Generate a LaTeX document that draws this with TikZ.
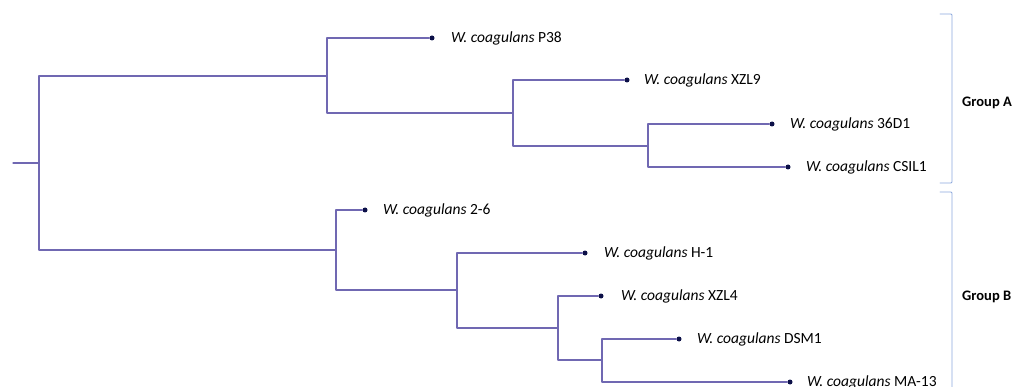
\documentclass[tikz,border=0pt]{standalone}
\usepackage{fontspec}
\setmainfont{Carlito}
\usetikzlibrary{positioning}
\definecolor{branchblue}{RGB}{112,104,178}
\definecolor{tipnavy}{RGB}{12,16,72}
\definecolor{groupblue}{RGB}{140,168,220}

\begin{document}
\begin{tikzpicture}[x=1pt,y=-1pt,line cap=round,line join=round,
  branch/.style={line width=1.1pt,color=branchblue},
  tip/.style={circle,fill=tipnavy,inner sep=0pt,minimum size=5pt},
  strain/.style={anchor=west,inner sep=0pt,font=\fontsize{15.5}{18}\selectfont},
  grp/.style={line width=0.9pt,color=groupblue,rounded corners=1pt},
  grplabel/.style={anchor=west,inner sep=0pt,font=\fontsize{14.5}{17}\selectfont\bfseries}]
\useasboundingbox (0,0) rectangle (1016,387);
\clip (0,0) rectangle (1016,387);
% inner nodes of the tree
\coordinate (r0) at (13,163);
\coordinate (r) at (39,163);
\coordinate (a) at (327,76);
\coordinate (a1) at (513,113);
\coordinate (a2) at (648,146);
\coordinate (b) at (336,250);
\coordinate (b1) at (457,290);
\coordinate (b2) at (558,328);
\coordinate (b3) at (602,360);
% tips
\node[tip] (p38) at (432,38) {};
\node[tip] (xzl9) at (627,80) {};
\node[tip] (d36) at (772,124) {};
\node[tip] (csil) at (788,167) {};
\node[tip] (s26) at (365,210) {};
\node[tip] (h1) at (585,253) {};
\node[tip] (xzl4) at (601,296) {};
\node[tip] (dsm1) at (679,339) {};
\node[tip] (ma13) at (790,382) {};
% branches
\draw[branch] (r0) -- (r);
\draw[branch] (r) |- (a);
\draw[branch] (r) |- (b);
\draw[branch] (a) |- (p38);
\draw[branch] (a) |- (a1);
\draw[branch] (a1) |- (xzl9);
\draw[branch] (a1) |- (a2);
\draw[branch] (a2) |- (d36);
\draw[branch] (a2) |- (csil);
\draw[branch] (b) |- (s26);
\draw[branch] (b) |- (b1);
\draw[branch] (b1) |- (h1);
\draw[branch] (b1) |- (b2);
\draw[branch] (b2) |- (xzl4);
\draw[branch] (b2) |- (b3);
\draw[branch] (b3) |- (dsm1);
\draw[branch] (b3) |- (ma13);
% labels
\node[strain,right=19pt of p38.center] (lp38) {\itshape W. coagulans \upshape P38};
\node[strain,right=17pt of xzl9.center] (lxzl9) {\itshape W. coagulans \upshape XZL9};
\node[strain,right=18pt of d36.center] (ld36) {\itshape W. coagulans \upshape 36D1};
\node[strain,right=18pt of csil.center] (lcsil) {\itshape W. coagulans \upshape CSIL1};
\node[strain,right=18pt of s26.center] (ls26) {\itshape W. coagulans \upshape 2-6};
\node[strain,right=19pt of h1.center] (lh1) {\itshape W. coagulans \upshape H-1};
\node[strain,right=20pt of xzl4.center] (lxzl4) {\itshape W. coagulans \upshape XZL4};
\node[strain,right=18pt of dsm1.center] (ldsm1) {\itshape W. coagulans \upshape DSM1};
\node[strain,right=17pt of ma13.center] (lma13) {\itshape W. coagulans \upshape MA-13};
% groups
\draw[grp] (940,14) -- (952,14) -- (952,183) -- (940,183);
\draw[grp] (940,192) -- (952,192) -- (952,400);
\node[grplabel] (ga) at (962,103) {Group A};
\node[grplabel] (gb) at (962,297) {Group B};
\end{tikzpicture}
\end{document}
